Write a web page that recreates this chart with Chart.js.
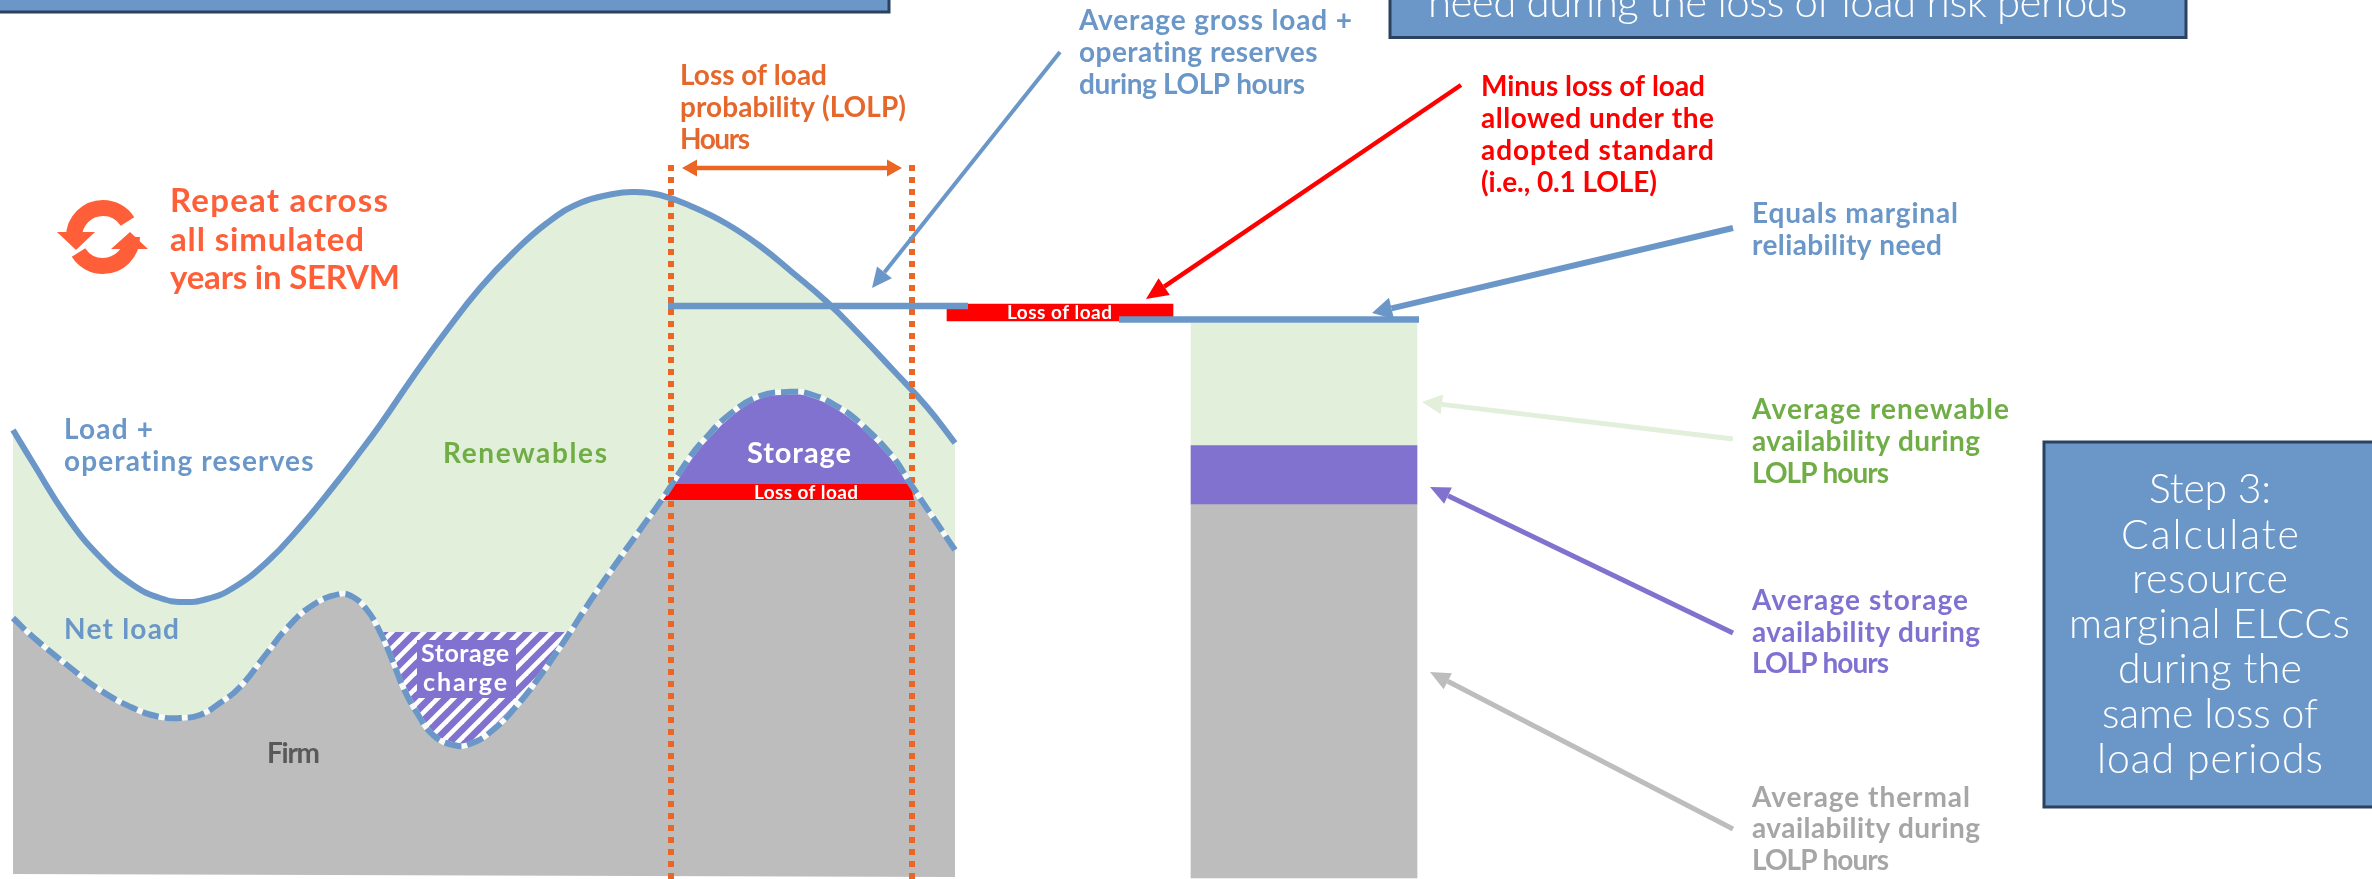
<!DOCTYPE html>
<html><head><meta charset="utf-8">
<style>html,body{margin:0;padding:0;background:#fff;overflow:hidden}canvas{display:block}</style>
<script src="https://cdn.jsdelivr.net/npm/chart.js@4"></script>
</head><body><canvas id="c" width="2372" height="879"></canvas>
<script>
// ---- values (x = time axis, y = capacity axis, 0 at foot) ----
const loadHours = [13,33,67,100,133,160,183,207,233,267,300,333,357,380,413,447,480,513,547,580,613,633,660,693,727,760,793,827,860,893,927,955];
const loadValues = [449,416,362,322,294,281,277,280,291,317,352,392,423,454,502,549,591,626,656,676,685,687,684,672,655,633,606,577,544,509,472,436];
const netHours = [13,33,67,100,133,160,180,200,220,240,267,287,313,340,353,367,380,393,403,417,433,453,470,493,520,543,567,593,620,640,663,690,703,730,760,787,810,840,860,893,910,930,955];
const netValues = [261,242,214,189,171,162,161,164,176,192,226,251,274,285,282,269,247,217,192,166,144,134,135,149,177,207,242,282,321,349,381,422,438,465,483,487,485,471,456,422,396,366,329];
const baseHours = [13,955];
const baseValues = [5,2];
const chargeHours = [380,393,403,417,433,453,470,493,520,543,567];
const chargeValues = [247,217,192,166,144,134,135,149,177,207,247];
const storageHours = [673,690,703,730,760,787,810,840,860,893,910];
const storageValues = [395,422,438,465,483,487,485,471,456,422,395];
const lossHours = [663,675,910,914];
const lossValues = [379,395,395,379];
const lossFloor = 379, storageFloor = 395, chargeCeil = 247;
const lolpLeft = 671, lolpRight = 912, lolpTop = 714;
const grossNeed = {x:[668,968], y:573};
const marginalNeed = {x:[1119,1419], y:559.5};
const lossBar = {x:1060, y:[558,575]};
const stackX = 1304;
const thermalBar = [1,375];
const storageBar = [375,434];
const renewableBar = [434,556];
const spanArrow = {x:[682,902], y:711};
// ---- colours ----
const BLUE='#6A97C8',GREEN='#E2EFDA',GRAY='#BDBDBD',PURPLE='#8172D0',RED='#FF0000',ORANGE='#EB6625',DARK='#2B4160';

const zip=(a,b)=>a.map((x,i)=>({x,y:b[i]}));
function hatch(){
  const s=16,p=document.createElement('canvas');p.width=p.height=s;const g=p.getContext('2d');
  g.fillStyle=PURPLE;g.fillRect(0,0,s,s);g.strokeStyle='#fff';g.lineWidth=4.6;
  [[-s,s,s,-s],[0,s*2,s*2,0],[0,s,s,0]].forEach(l=>{g.beginPath();g.moveTo(l[0],l[1]);g.lineTo(l[2],l[3]);g.stroke();});
  return g.createPattern(p,'repeat');
}
const area=(name,x,y,color,fill)=>({label:name,data:zip(x,y),backgroundColor:color,fill,borderWidth:0,borderColor:'transparent',pointRadius:0,tension:0.45});
const line=(name,x,y,color,w,extra)=>Object.assign({label:name,data:zip(x,y),borderColor:color,borderWidth:w,pointRadius:0,fill:false,tension:0,borderCapStyle:'butt'},extra||{});
function arrow(name,from,to,color,w,len,wid){
  const d=Math.hypot(to[0]-from[0],to[1]-from[1]),k=(d-len)/d;
  const base=[from[0]+(to[0]-from[0])*k,from[1]+(to[1]-from[1])*k];
  return line(name,[from[0],base[0]],[from[1],base[1]],color,w,{head:{tip:to,len,wid}});
}
const smooth={tension:0.45};
const datasets=[
  line('base',baseHours,baseValues,'transparent',0),
  area('Renewables',loadHours,loadValues,GREEN,2),
  area('Firm',netHours,netValues,GRAY,0),
  area('Storage charge',chargeHours,chargeValues,hatch(),{value:chargeCeil}),
  area('Storage',storageHours,storageValues,PURPLE,{value:storageFloor}),
  line('net gaps',netHours,netValues,'#F8FBF5',5.5,smooth),
  line('Load + operating reserves',loadHours,loadValues,BLUE,6,smooth),
  line('LOLP start',[lolpLeft,lolpLeft],[lolpTop,0],ORANGE,6,{borderDash:[6,6]}),
  line('LOLP end',[lolpRight,lolpRight],[lolpTop,0],ORANGE,6,{borderDash:[6,6]}),
  {label:'Loss of load',data:zip(lossHours,lossValues),backgroundColor:RED,fill:{value:lossFloor},borderWidth:0,pointRadius:0,tension:0},
  line('Net load',netHours,netValues,BLUE,6,Object.assign({borderDash:[17,6]},smooth)),
  {type:'bar',label:'Loss of load allowed',data:[{x:lossBar.x,y:lossBar.y}],backgroundColor:RED,barThickness:226,grouped:false},
  line('Gross need',grossNeed.x,[grossNeed.y,grossNeed.y],BLUE,6.5),
  {type:'bar',label:'Thermal',data:[{x:stackX,y:thermalBar}],backgroundColor:GRAY,barThickness:226,grouped:false},
  {type:'bar',label:'Storage avail',data:[{x:stackX,y:storageBar}],backgroundColor:PURPLE,barThickness:226,grouped:false},
  {type:'bar',label:'Renewable avail',data:[{x:stackX,y:renewableBar}],backgroundColor:GREEN,barThickness:226,grouped:false},
  line('Marginal need',marginalNeed.x,[marginalNeed.y,marginalNeed.y],BLUE,6.5),
  arrow('a gross',[1060,827],[872,591],BLUE,4,20,19),
  arrow('a loss',[1461,794],[1146,580],RED,4.5,22,20),
  arrow('a marginal',[1733,651],[1372,566],BLUE,6,20,22),
  arrow('a renew',[1733,440],[1422,477],GREEN,5,20,20),
  arrow('a storage',[1733,246],[1430,392],PURPLE,5,20,18),
  arrow('a thermal',[1733,50],[1430,207],GRAY,5,20,18),
  arrow('a span r',[(spanArrow.x[0]+spanArrow.x[1])/2,spanArrow.y],[spanArrow.x[1],spanArrow.y],ORANGE,4.5,15,17),
  arrow('a span l',[(spanArrow.x[0]+spanArrow.x[1])/2,spanArrow.y],[spanArrow.x[0],spanArrow.y],ORANGE,4.5,15,17)
];
datasets.forEach((d,i)=>{d.order=datasets.length-i;});

// text: [string, left x, baseline y, target width, size, weight, colour]
const C1='#E5672B',C2='#FF5F38',G2='#70AD47',P2='#7F71D1',N2='#A6A6A6';
const labels=[
 ['Loss of load',680,85,147,28,700,C1],['probability (LOLP)',680,117,226,28,700,C1],['Hours',680,149,70,28,700,C1],
 ['Repeat across',170,212,218,33,700,C2],['all simulated',170,251,194,33,700,C2],['years in SERVM',170,289,230,33,700,C2],
 ['Load +',64,439,89,28,700,BLUE],['operating reserves',64,471,250,28,700,BLUE],
 ['Renewables',443,463,164,28,700,G2],['Net load',64,639,115,28,700,BLUE],['Firm',267,763,53,28,700,'#595959'],
 ['Storage',421,662,88,25,700,'#fff'],['charge',423,691,84,25,700,'#fff'],
 ['Storage',747,463,104,29,700,'#fff'],['Loss of load',754,499,104,19,700,'#fff'],['Loss of load',1007,319,105,19,700,'#fff'],
 ['Average gross load +',1079,30,273,28,700,BLUE],['operating reserves',1079,62,239,28,700,BLUE],['during LOLP hours',1079,94,226,28,700,BLUE],
 ['Minus loss of load',1481,96,224,28,700,RED],['allowed under the',1481,128,233,28,700,RED],['adopted standard',1481,160,233,28,700,RED],['(i.e., 0.1 LOLE)',1481,192,176,28,700,RED],
 ['Equals marginal',1752,223,206,28,700,BLUE],['reliability need',1752,255,190,28,700,BLUE],
 ['Average renewable',1752,419,257,28,700,G2],['availability during',1752,451,228,28,700,G2],['LOLP hours',1752,483,137,28,700,G2],
 ['Average storage',1752,610,216,28,700,P2],['availability during',1752,642,228,28,700,P2],['LOLP hours',1752,673,137,28,700,P2],
 ['Average thermal',1752,807,218,28,700,N2],['availability during',1752,838,228,28,700,N2],['LOLP hours',1752,870,137,28,700,N2],
 ['need during the loss of load risk periods*',1428,17,716,42,300,'#fff'],
 ['Step 3:',2149,503,122,41,300,'#fff'],['Calculate',2121,549,178,41,300,'#fff'],['resource',2132,593,156,41,300,'#fff'],
 ['marginal ELCCs',2069,638,281,41,300,'#fff'],['during the',2118,683,184,41,300,'#fff'],['same loss of',2102,728,216,41,300,'#fff'],['load periods',2097,773,226,41,300,'#fff']
];
const boxes=[[-6,-6,895,18],[1390,-6,796,43.5],[2044,442,340,365]];

const annot={id:'annot',
 afterDatasetsDraw(chart){
  const c=chart.ctx;c.save();
  const xs=chart.scales.x,ys=chart.scales.y;
  // arrow heads
  datasets.forEach(d=>{ if(!d.head) return;
    const pts=d.data,b=pts[pts.length-1];
    const bx=xs.getPixelForValue(b.x),by=ys.getPixelForValue(b.y),tx=xs.getPixelForValue(d.head.tip[0]),ty=ys.getPixelForValue(d.head.tip[1]);
    const L=Math.hypot(tx-bx,ty-by),nx=-(ty-by)/L,ny=(tx-bx)/L,w=d.head.wid/2;
    c.fillStyle=d.borderColor;c.beginPath();c.moveTo(tx,ty);c.lineTo(bx+nx*w,by+ny*w);c.lineTo(bx-nx*w,by-ny*w);c.closePath();c.fill();
  });
  // boxes
  boxes.forEach(b=>{c.fillStyle=BLUE;c.fillRect(b[0],b[1],b[2],b[3]);c.strokeStyle=DARK;c.lineWidth=3;c.strokeRect(b[0],b[1],b[2],b[3]);});
  // purple backing of the charge label
  c.fillStyle=PURPLE;c.fillRect(417,640,99,58);
  // cycle icon
  c.strokeStyle=C2;c.fillStyle=C2;c.lineWidth=16;
  c.beginPath();c.arc(103,237,29,Math.PI*1.0,Math.PI*1.82);c.stroke();
  c.beginPath();c.arc(103,237,29,0,Math.PI*0.82);c.stroke();
  c.beginPath();c.moveTo(57,232);c.lineTo(95,232);c.lineTo(76,250);c.closePath();c.fill();
  c.beginPath();c.moveTo(148,249);c.lineTo(111,249);c.lineTo(130,232);c.closePath();c.fill();
  // text
  c.textBaseline='alphabetic';c.textAlign='left';
  labels.forEach(([t,x,y,w,s,wt,col])=>{
    c.font=wt+' '+s+'px Lato';c.letterSpacing='0px';
    const m=c.measureText(t).width;
    c.letterSpacing=((w-m)/(t.length-1)).toFixed(3)+'px';
    c.fillStyle=col;c.fillText(t,x,y);
  });
  c.letterSpacing='0px';c.restore();
 }};

new Chart(document.getElementById('c'),{type:'line',data:{datasets},plugins:[annot],options:{
  responsive:false,devicePixelRatio:1,animation:false,layout:{padding:0},
  plugins:{legend:{display:false},tooltip:{enabled:false},title:{display:false}},
  scales:{x:{type:'linear',min:0,max:2372,display:false,offset:false},y:{type:'linear',min:0,max:879,display:false}}
}});
</script></body></html>
